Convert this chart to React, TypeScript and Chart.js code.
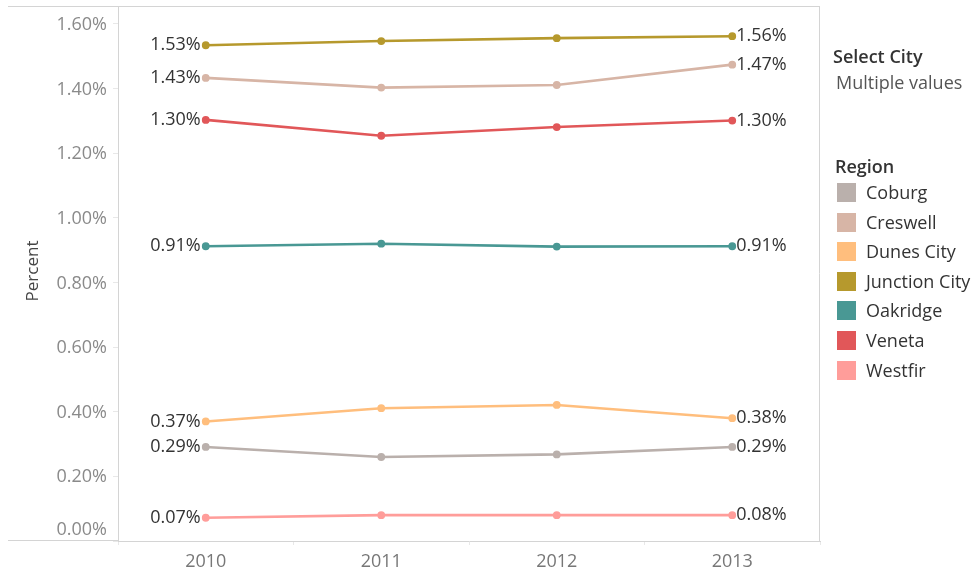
import React, { useEffect, useRef } from "react";
import { Chart, registerables } from "chart.js";

Chart.register(...registerables);

const years = ["2010", "2011", "2012", "2013"];
const seriesNames = ["Coburg", "Creswell", "Dunes City", "Junction City", "Oakridge", "Veneta", "Westfir"];
const coburg = [0.291, 0.26, 0.268, 0.291];
const creswell = [1.433, 1.403, 1.411, 1.474];
const dunesCity = [0.37, 0.411, 0.421, 0.38];
const junctionCity = [1.534, 1.547, 1.556, 1.562];
const oakridge = [0.912, 0.92, 0.911, 0.912];
const veneta = [1.303, 1.254, 1.281, 1.301];
const westfir = [0.072, 0.08, 0.08, 0.08];
const seriesColors = ["#BAB0AC", "#D7B5A6", "#FFBE7D", "#B6992D", "#499894", "#E15759", "#FF9D9A"];
const yTicks = [0, 0.2, 0.4, 0.6, 0.8, 1.0, 1.2, 1.4, 1.6];

const seriesValues = [coburg, creswell, dunesCity, junctionCity, oakridge, veneta, westfir];
const FONT = "'Open Sans', sans-serif";

const labelPlugin = {
  id: "customLabels",
  afterDraw(chart: any) {
    const ctx = chart.ctx;
    const area = chart.chartArea;
    const y = chart.scales.y;
    ctx.save();
    ctx.strokeStyle = "#d4d4d4";
    ctx.lineWidth = 1;
    ctx.beginPath();
    ctx.moveTo(8, area.top + 0.5);
    ctx.lineTo(area.right, area.top + 0.5);
    ctx.moveTo(area.right - 0.5, area.top);
    ctx.lineTo(area.right - 0.5, area.bottom);
    ctx.moveTo(8, area.bottom - 0.5);
    ctx.lineTo(area.left, area.bottom - 0.5);
    ctx.stroke();
    ctx.font = `18px ${FONT}`;
    ctx.fillStyle = "#8a8a8a";
    ctx.textAlign = "right";
    ctx.textBaseline = "middle";
    yTicks.forEach((v) => {
      let py = y.getPixelForValue(v) + 1;
      if (v === 0) py -= 12;
      ctx.fillText(v.toFixed(2) + "%", 107, py);
    });
    ctx.fillStyle = "#333333";
    chart.data.datasets.forEach((ds: any, di: number) => {
      const meta = chart.getDatasetMeta(di);
      const first = meta.data[0];
      const last = meta.data[meta.data.length - 1];
      ctx.textAlign = "right";
      ctx.fillText(ds.data[0].toFixed(2) + "%", first.x - 5, first.y);
      ctx.textAlign = "left";
      ctx.fillText(ds.data[ds.data.length - 1].toFixed(2) + "%", last.x + 4, last.y);
    });
    ctx.save();
    ctx.translate(33, 271);
    ctx.rotate(-Math.PI / 2);
    ctx.textAlign = "center";
    ctx.fillStyle = "#444444";
    ctx.font = `17px ${FONT}`;
    ctx.fillText("Percent", 0, 0);
    ctx.restore();
    ctx.restore();
  },
};

export default function App() {
  const ref = useRef<HTMLCanvasElement>(null);
  useEffect(() => {
    if (!ref.current) return;
    const chart = new Chart(ref.current, {
      type: "line",
      data: {
        labels: years,
        datasets: seriesNames.map((name, i) => ({
          label: name,
          data: seriesValues[i],
          borderColor: seriesColors[i],
          backgroundColor: seriesColors[i],
          borderWidth: 2.6,
          pointRadius: 2.6,
          pointHoverRadius: 2.6,
          tension: 0,
        })),
      },
      options: {
        responsive: false,
        animation: false,
        layout: { padding: { left: 0, top: 6, right: 158, bottom: 0 } },
        plugins: { legend: { display: false }, tooltip: { enabled: false } },
        scales: {
          x: {
            type: "category",
            offset: true,
            grid: { display: true, offset: true, drawOnChartArea: false, drawTicks: true, tickLength: 4, color: "#e8e8e8" },
            border: { display: true, color: "#d4d4d4" },
            ticks: { color: "#777777", font: { family: FONT, size: 18 }, padding: 6 },
            afterFit: (s: any) => { s.height = 32; },
          },
          y: {
            min: 0,
            max: 1.6555,
            grid: { display: true, drawOnChartArea: false, drawTicks: true, tickLength: 5, color: "#e8e8e8" },
            border: { display: true, color: "#d4d4d4" },
            ticks: { display: false },
            afterBuildTicks: (s: any) => { s.ticks = yTicks.map((v) => ({ value: v })); },
            afterFit: (s: any) => { s.width = 118; },
          },
        },
      },
      plugins: [labelPlugin],
    });
    return () => chart.destroy();
  }, []);

  const legendText: React.CSSProperties = { position: "absolute", fontFamily: FONT, fontSize: 18, color: "#333", whiteSpace: "nowrap", lineHeight: "20px" };
  return (
    <div style={{ position: "fixed", left: 0, top: 0, width: 978, height: 573, background: "#fff" }}>
      <canvas ref={ref} width={978} height={573} style={{ position: "absolute", left: 0, top: 0 }} />
      <div style={{ ...legendText, left: 833, top: 46, fontWeight: 600, color: "#333" }}>Select City</div>
      <div style={{ ...legendText, left: 836, top: 72, color: "#555" }}>Multiple values</div>
      <div style={{ ...legendText, left: 835, top: 156, fontWeight: 600 }}>Region</div>
      {seriesNames.map((n, i) => (
        <React.Fragment key={n}>
          <div style={{ position: "absolute", left: 837, top: 183 + i * 29.6, width: 19, height: 19, background: seriesColors[i] }} />
          <div style={{ ...legendText, left: 866, top: 182 + i * 29.6 }}>{n}</div>
        </React.Fragment>
      ))}
    </div>
  );
}
